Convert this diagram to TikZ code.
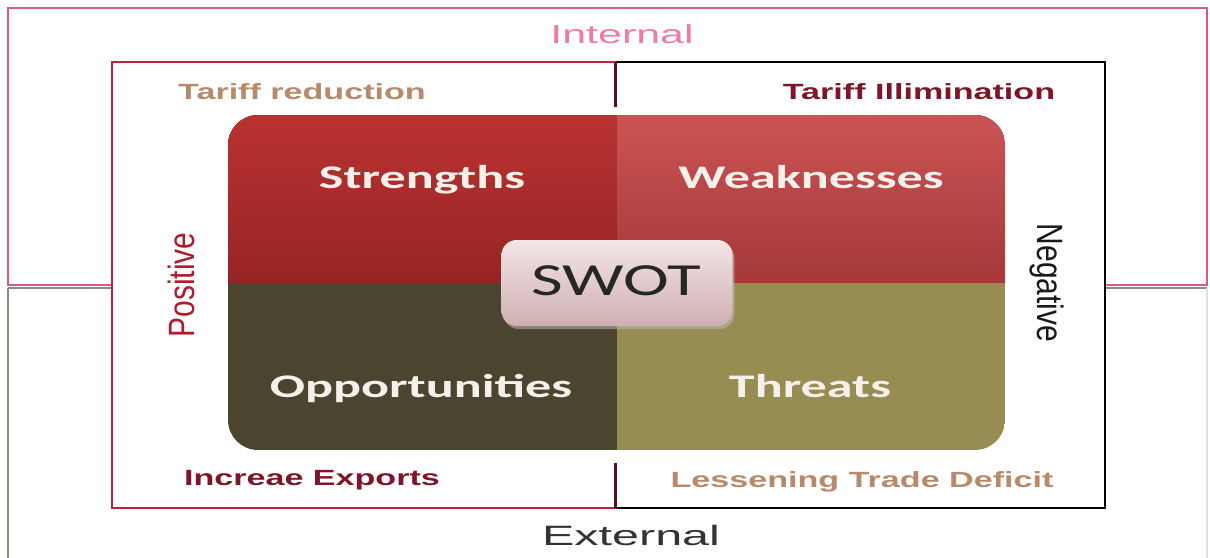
\documentclass[tikz,border=0pt]{standalone}
\usepackage{fontspec}
\setmainfont{Liberation Sans}
\newfontfamily\calibri{Carlito}
\usepackage{xcolor}
\usepackage{tikz}

\definecolor{intpink}{HTML}{E0558A}
\definecolor{intlabel}{HTML}{EE7CA8}
\definecolor{extgray}{HTML}{8C8C80}
\definecolor{crimson}{HTML}{C41E3A}
\definecolor{tan}{HTML}{B8896A}
\definecolor{wine}{HTML}{7E1528}
\definecolor{posred}{HTML}{B01C2E}
\definecolor{strtop}{HTML}{BA3232}
\definecolor{strbot}{HTML}{962424}
\definecolor{weaktop}{HTML}{CA5454}
\definecolor{weakbot}{HTML}{A63838}
\definecolor{oppfill}{HTML}{4B4530}
\definecolor{thrfill}{HTML}{978C52}
\definecolor{quadtext}{HTML}{F6F0EA}
\definecolor{swottop}{HTML}{F4E6E6}
\definecolor{swotbot}{HTML}{CFAFB2}

\begin{document}
\begin{tikzpicture}[x=1pt, y=-1pt,
  tag/.style={font=\bfseries\fontsize{22}{22}\selectfont, xscale=1.55, anchor=base, inner sep=0pt},
  quad/.style={font=\calibri\bfseries\fontsize{33}{33}\selectfont, text=quadtext, xscale=1.58, anchor=base, inner sep=0pt},
  side/.style={font=\fontsize{30}{30}\selectfont, xscale=1.22, inner sep=0pt},
  half/.style={font=\fontsize{26}{26}\selectfont, xscale=1.65, anchor=base, inner sep=0pt}]
  \useasboundingbox (0,0) rectangle (1210,557);
  \fill[white] (0,0) rectangle (1210,557);

  % internal / external halves
  \draw[black!15, line width=1.2] (112,286) -- (212,286) (1023,286) -- (1105,286);
  \draw[intpink, line width=1.3] (8,8) rectangle (1207,285);
  \draw[extgray, line width=1.3] (8,288) -- (112,288) (1105,288) -- (1207,288);
  \draw[extgray, line width=1.3] (8,288) -- (8,560);
  \draw[black!12, line width=1.3] (1207,288) -- (1207,560);
  \node[half, text=intlabel] (int) at (622,43) {Internal};
  \node[half, text=black!80, font=\fontsize{28}{28}\selectfont, xscale=1.05]
    (ext) at (631,545) {External};

  % inner frame
  \fill[white] (112,62) rectangle (1105,508);
  \draw[crimson, line width=2] (616,62) -- (112,62) -- (112,508) -- (616,508);
  \draw[black, line width=2] (616,62) -- (1105,62) -- (1105,508) -- (616,508);
  \draw[wine!70!black, line width=3] (615,62) -- (615,107) (615,463) -- (615,508);

  % swot quadrants
  \begin{scope}
    \clip[rounded corners=30] (228,115) rectangle (1005,450);
    \fill[top color=strtop, bottom color=strbot] (228,115) rectangle (617,283);
    \fill[top color=weaktop, bottom color=weakbot] (617,115) rectangle (1005,283);
    \fill[oppfill] (228,283) rectangle (617,450);
    \fill[thrfill] (617,283) rectangle (1005,450);
  \end{scope}
  \node[quad] (str) at (422,188) {Strengths};
  \node[quad] (weak) at (811,188) {Weaknesses};
  \node[quad] (opp) at (421,397) {Opportunities};
  \node[quad] (thr) at (810,397) {Threats};
  \node[fill=black!25, rounded corners=15, minimum width=231, minimum height=86,
    opacity=0.5] (swotshadow) at (619,286) {};
  \node[top color=swottop, bottom color=swotbot, rounded corners=15,
    minimum width=231, minimum height=86] (swot) at (617,283) {};
  \node[font=\calibri\fontsize{46}{46}\selectfont, text=black!85, xscale=1.5,
    anchor=base, inner sep=0pt] (swottext) at (616,295) {SWOT};

  % side notes
  \node[tag, text=tan] (tr) at (302,99) {Tariff reduction};
  \node[tag, text=wine] (ti) at (919,99) {Tariff Illimination};
  \node[tag, text=wine] (ie) at (312,485) {Increae Exports};
  \node[tag, text=tan] (ltd) at (862,487) {Lessening Trade Deficit};
  \node[side, text=posred, rotate=90] (pos) at (181,285) {Positive};
  \node[side, text=black!90, rotate=-90] (neg) at (1047,283) {Negative};
\end{tikzpicture}
\end{document}
